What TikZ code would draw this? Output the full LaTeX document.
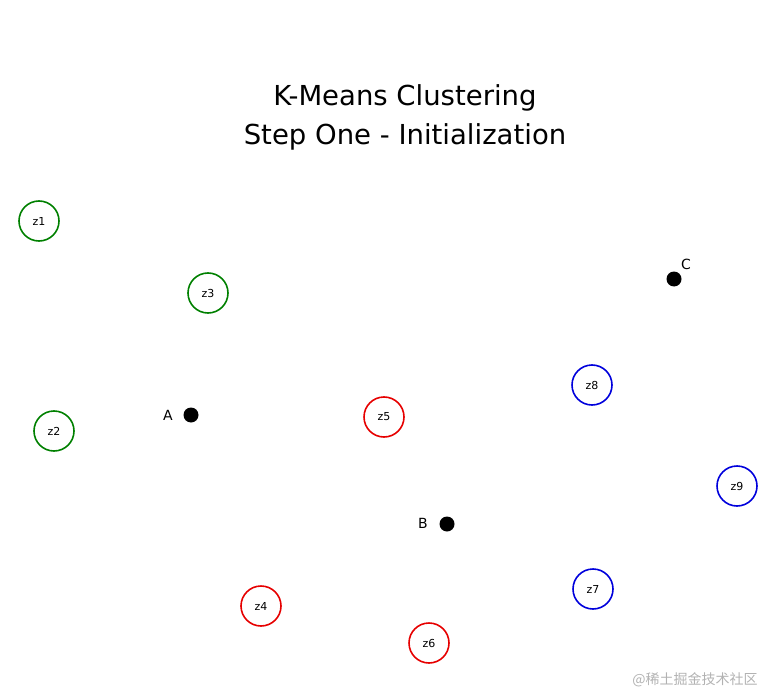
\documentclass[tikz,border=0pt]{standalone}
\usepackage{fontspec}
\setmainfont{DejaVu Sans}
\newfontfamily\cjk{Noto Sans CJK SC}
\begin{document}
\begin{tikzpicture}[x=1pt,y=-1pt,
 pt/.style={circle,draw,line width=1.6pt,minimum size=40pt,inner sep=0pt,font=\fontsize{11}{12}\selectfont},
 g/.style={pt,draw={rgb,255:red,0;green,128;blue,0}},
 r/.style={pt,draw={rgb,255:red,230;green,0;blue,0}},
 b/.style={pt,draw={rgb,255:red,0;green,0;blue,220}},
 dot/.style={circle,fill=black,minimum size=15pt,inner sep=0pt},
 lab/.style={font=\fontsize{14}{15}\selectfont}]
\useasboundingbox (0,0) rectangle (779,695);
\node[font=\fontsize{27.5}{39}\selectfont,align=center] (t) at (405,117) {K-Means Clustering\\Step One - Initialization};
\node[g] (z1) at (39,221) {z1};
\node[g] (z3) at (208,293) {z3};
\node[g] (z2) at (54,431) {z2};
\node[r] (z5) at (384,417) {z5};
\node[r] (z4) at (261,606) {z4};
\node[r] (z6) at (429,643) {z6};
\node[b] (z8) at (592,385) {z8};
\node[b] (z9) at (737,486) {z9};
\node[b] (z7) at (593,589) {z7};
\node[dot] (A) at (191,415) {};
\node[lab] (la) at (168,415) {A};
\node[dot] (B) at (447,524) {};
\node[lab] (lb) at (423,523) {B};
\node[dot] (C) at (674,279) {};
\node[lab] (lc) at (686,264) {C};
\node[font=\cjk\fontsize{14}{15}\selectfont,text=gray!60] (w) at (695,680) {@稀土掘金技术社区};
\end{tikzpicture}
\end{document}
